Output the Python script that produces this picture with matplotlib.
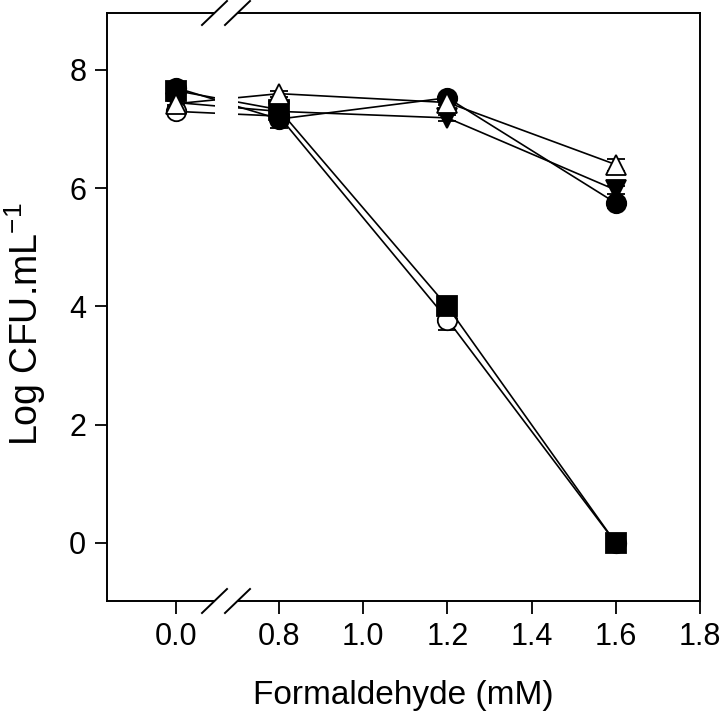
import numpy as np
import matplotlib
matplotlib.use("Agg")
import matplotlib.pyplot as plt
from matplotlib.patches import Rectangle

plt.rcParams['font.family'] = ['Liberation Sans', 'DejaVu Sans']

# ---- data ----
formaldehyde = [0.0, 0.8, 1.2, 1.6]
x_ticks = [0.0, 0.8, 1.0, 1.2, 1.4, 1.6, 1.8]
x_ticklabels = ['0.0', '0.8', '1.0', '1.2', '1.4', '1.6', '1.8']
y_ticks = [0, 2, 4, 6, 8]

open_circle = [7.30, 7.22, 3.78, 0.0]
open_circle_err = [0.05, 0.05, 0.17, 0.0]
filled_square = [7.65, 7.33, 4.00, 0.0]
filled_square_err = [0.05, 0.05, 0.05, 0.0]
filled_circle = [7.70, 7.17, 7.53, 5.75]
filled_circle_err = [0.05, 0.15, 0.05, 0.08]
filled_tri_down = [7.45, 7.30, 7.19, 5.97]
filled_tri_down_err = [0.05, 0.05, 0.05, 0.07]
open_tri_up = [7.43, 7.60, 7.45, 6.40]
open_tri_up_err = [0.05, 0.05, 0.05, 0.10]

# ---- broken-axis scale ----
K = 0.3058
def fwd(x):
    x = np.asarray(x, dtype=float)
    return np.where(x >= 0.8, x, 0.8 - (0.8 - x) * K)
def inv(t):
    t = np.asarray(t, dtype=float)
    return np.where(t >= 0.8, t, 0.8 - (0.8 - t) / K)

fig = plt.figure(figsize=(7.2, 7.16), dpi=100)
ax = fig.add_axes([107/720, 1 - 601/716, 593/720, 588/716])
ax.set_xscale('function', functions=(fwd, inv))

series = [
    (open_circle, open_circle_err, 'o', 'white'),
    (filled_square, filled_square_err, 's', 'black'),
    (filled_circle, filled_circle_err, 'o', 'black'),
    (filled_tri_down, filled_tri_down_err, 'v', 'black'),
    (open_tri_up, open_tri_up_err, '^', 'white'),
]
for vals, err, mk, fc in series:
    ax.errorbar(formaldehyde, vals, yerr=err, color='black', lw=1.2,
                marker=mk, markersize=14 if mk in 'os' else 15,
                markerfacecolor=fc, markeredgecolor='black', markeredgewidth=1.3,
                capsize=6.5, capthick=1.1, elinewidth=1.1, zorder=3)

ax.set_xlim(-0.536, 1.8)
ax.set_ylim(-0.981, 8.964)
ax.set_xticks(x_ticks)
ax.set_xticklabels(x_ticklabels)
ax.set_yticks(y_ticks)
ax.minorticks_off()
ax.tick_params(direction='out', length=9, width=1.3, labelsize=22, pad=6)
for s in ax.spines.values():
    s.set_linewidth(1.4)

# gap in axis and lines
g0, g1 = (214.5 - 107) / 593, (237.5 - 107) / 593
ax.add_patch(Rectangle((g0, -0.01), g1 - g0, 1.02, transform=ax.transAxes,
                       facecolor='white', edgecolor='none', zorder=4, clip_on=False))
# break marks
dx, dy = 12.5 / 593, 12 / 588
for gx in (g0, g1):
    for gy in (0, 1):
        ax.plot([gx - dx, gx + dx], [gy - dy, gy + dy], transform=ax.transAxes,
                color='black', lw=1.4, clip_on=False, zorder=5)

ax.set_xlabel('Formaldehyde (mM)', fontsize=24, labelpad=20)
ax.set_ylabel('Log CFU.mL$^{\\mathregular{-1}}$', fontsize=27)
ax.yaxis.set_label_coords(-0.10, 0.47)

fig.savefig('out.png', dpi=100)
